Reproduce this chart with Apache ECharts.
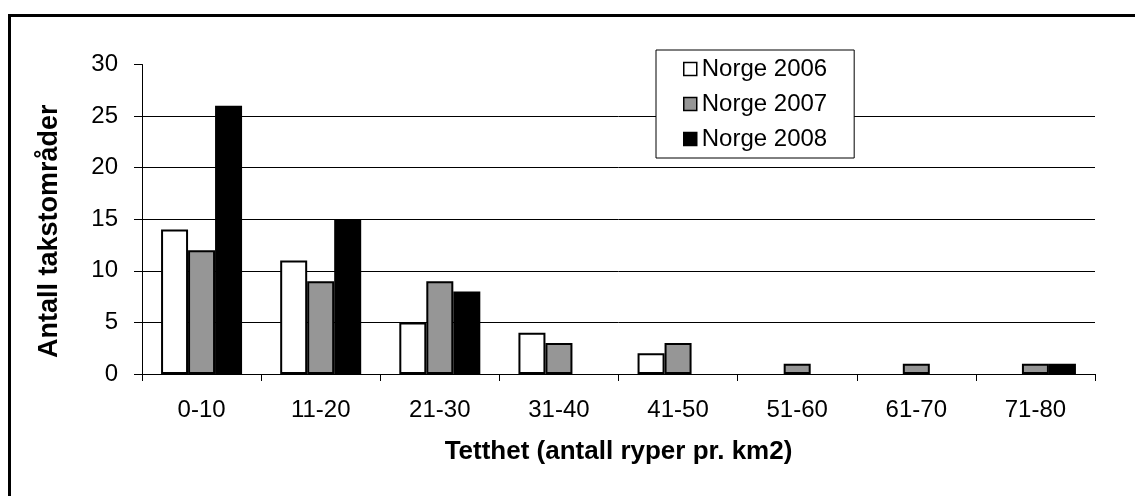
<!DOCTYPE html>
<html>
<head>
<meta charset="utf-8">
<script src="https://cdn.jsdelivr.net/npm/echarts@6/dist/echarts.min.js"></script>
<style>
html,body{margin:0;padding:0;background:#fff;overflow:hidden;}
#c{width:1135px;height:496px;}
</style>
</head>
<body>
<div id="c"></div>
<script>
var categories = ['0-10','11-20','21-30','31-40','41-50','51-60','61-70','71-80'];
var norge2006 = [14, 11, 5, 4, 2, 0, 0, 0];
var norge2007 = [12, 9, 9, 3, 3, 1, 1, 1];
var norge2008 = [26, 15, 8, 0, 0, 0, 0, 1];
var seriesNames = ['Norge 2006', 'Norge 2007', 'Norge 2008'];
var yAxisTitle = 'Antall takstområder';
var xAxisTitle = 'Tetthet (antall ryper pr. km2)';

var FONT = "'Liberation Sans', Arial, sans-serif";
var fills = ['#ffffff', '#969696', '#000000'];
var values = [norge2006, norge2007, norge2008];

function nz(arr){ return arr.map(function(v){ return v === 0 ? null : v; }); }

var series = values.map(function(arr, i){
  return {
    name: seriesNames[i],
    type: 'bar',
    data: nz(arr),
    barGap: '0%',
    barCategoryGap: '32%',
    itemStyle: { color: fills[i], borderColor: '#000', borderWidth: 2 },
    z: 3
  };
});

var chart = echarts.init(document.getElementById('c'), null, {renderer: 'canvas'});
chart.setOption({
  backgroundColor: '#fff',
  animation: false,
  textStyle: { fontFamily: FONT, color: '#000' },
  graphic: [{
    type: 'polyline',
    shape: { points: [[9.5, 700], [9.5, 15.5], [1400, 15.5]] },
    style: { fill: 'none', stroke: '#000', lineWidth: 3 },
    silent: true
  }],
  grid: { left: 142, right: 40, top: 64.5, bottom: 122, containLabel: false },
  legend: {
    data: seriesNames,
    orient: 'vertical',
    left: 656,
    top: 50,
    padding: [7, 27, 7, 27],
    itemGap: 11,
    itemWidth: 13,
    itemHeight: 13,
    itemTextGap: 5,
    borderColor: '#000',
    borderWidth: 1,
    backgroundColor: '#fff',
    icon: 'rect',
    itemStyle: { borderColor: '#000', borderWidth: 1.5 },
    textStyle: { fontFamily: FONT, fontSize: 24, color: '#000' }
  },
  xAxis: {
    type: 'category',
    data: categories,
    name: xAxisTitle,
    nameLocation: 'middle',
    nameGap: 65,
    nameTextStyle: { fontFamily: FONT, fontSize: 26, fontWeight: 'bold', color: '#000' },
    axisLine: { lineStyle: { color: '#000', width: 1 } },
    axisTick: { show: true, length: 7, lineStyle: { color: '#000' } },
    axisLabel: { fontFamily: FONT, fontSize: 24, color: '#000', margin: 24 }
  },
  yAxis: {
    type: 'value',
    min: 0,
    max: 30,
    interval: 5,
    name: yAxisTitle,
    nameLocation: 'middle',
    nameGap: 79,
    nameRotate: 90,
    nameTextStyle: { fontFamily: FONT, fontSize: 27, fontWeight: 'bold', color: '#000', padding: [0, 24, 0, 0] },
    axisLine: { show: true, lineStyle: { color: '#000', width: 1 } },
    axisTick: { show: true, length: 8, lineStyle: { color: '#000' } },
    axisLabel: { fontFamily: FONT, fontSize: 24, color: '#000', margin: 24 },
    splitLine: { show: true, lineStyle: { color: ['#000','#000','#000','#000','#000','#000','rgba(0,0,0,0)'], width: 1 } }
  },
  series: series
});
</script>
</body>
</html>
